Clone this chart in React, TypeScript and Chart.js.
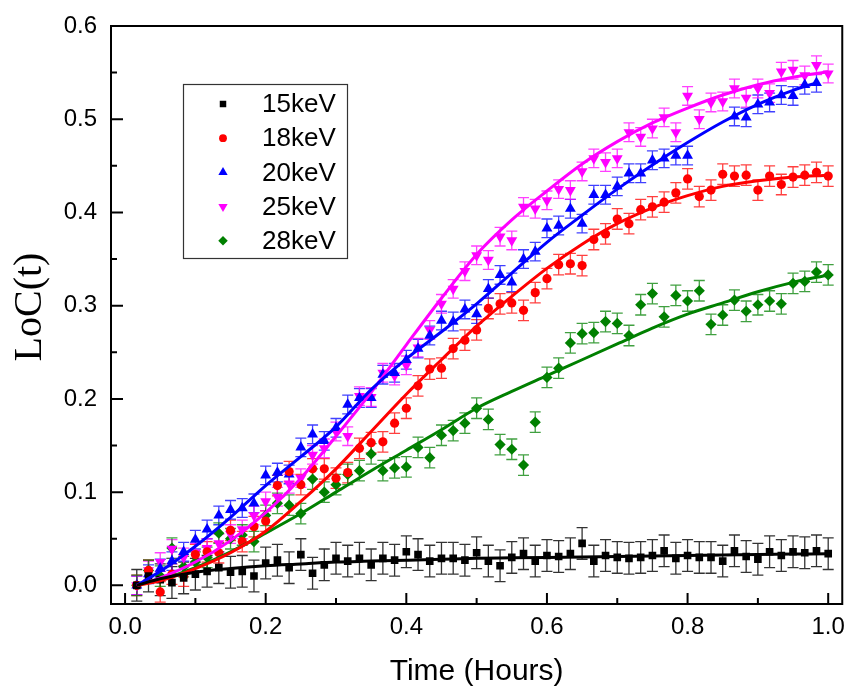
import React, { useEffect, useRef } from 'react';
import { Chart, registerables } from 'chart.js';

Chart.register(...registerables);

// Time axis: one sample per minute, expressed in hours
const TIME_MIN = [
  1, 2, 3, 4, 5, 6, 7, 8, 9, 10, 11, 12, 13, 14, 15, 16, 17, 18, 19, 20,
  21, 22, 23, 24, 25, 26, 27, 28, 29, 30, 31, 32, 33, 34, 35, 36, 37, 38, 39, 40,
  41, 42, 43, 44, 45, 46, 47, 48, 49, 50, 51, 52, 53, 54, 55, 56, 57, 58, 59, 60,
];

const LOC_15KEV = [
  0.000, 0.010, 0.006, 0.003, 0.008, 0.012, 0.015, 0.019, 0.014, 0.015,
  0.010, 0.024, 0.027, 0.019, 0.033, 0.013, 0.022, 0.029, 0.026, 0.029,
  0.022, 0.029, 0.027, 0.036, 0.033, 0.026, 0.029, 0.029, 0.027, 0.035,
  0.026, 0.021, 0.030, 0.034, 0.026, 0.032, 0.031, 0.034, 0.045, 0.026,
  0.032, 0.030, 0.029, 0.030, 0.032, 0.037, 0.029, 0.032, 0.030, 0.030,
  0.026, 0.037, 0.031, 0.028, 0.036, 0.032, 0.036, 0.035, 0.037, 0.034,
];

const LOC_18KEV = [
  0.000, 0.016, -0.007, 0.012, 0.010, 0.033, 0.036, 0.035, 0.059, 0.047,
  0.063, 0.069, 0.107, 0.122, 0.108, 0.125, 0.125, 0.115, 0.121, 0.147,
  0.153, 0.154, 0.174, 0.190, 0.214, 0.232, 0.233, 0.254, 0.263, 0.274,
  0.297, 0.302, 0.303, 0.295, 0.314, 0.329, 0.344, 0.345, 0.343, 0.371,
  0.377, 0.393, 0.388, 0.403, 0.406, 0.411, 0.421, 0.436, 0.417, 0.424,
  0.441, 0.439, 0.440, 0.424, 0.439, 0.430, 0.438, 0.440, 0.443, 0.439,
];

const LOC_20KEV = [
  0.000, 0.012, 0.018, 0.026, 0.036, 0.049, 0.060, 0.075, 0.081, 0.083,
  0.088, 0.118, 0.121, 0.119, 0.148, 0.162, 0.155, 0.169, 0.194, 0.201,
  0.201, 0.226, 0.228, 0.242, 0.254, 0.268, 0.284, 0.283, 0.296, 0.291,
  0.318, 0.333, 0.325, 0.350, 0.358, 0.383, 0.386, 0.404, 0.388, 0.419,
  0.419, 0.428, 0.442, 0.442, 0.456, 0.458, 0.461, 0.461, null, null,
  null, 0.503, 0.502, 0.516, 0.518, 0.526, 0.525, 0.537, 0.539, null,
];

const LOC_25KEV = [
  0.000, 0.016, 0.025, 0.039, 0.030, 0.035, 0.040, 0.045, 0.055, 0.060,
  0.075, 0.090, 0.095, 0.109, 0.115, 0.140, 0.147, 0.165, 0.160, 0.203,
  0.202, 0.228, 0.225, 0.236, 0.255, 0.274, 0.302, 0.318, 0.337, 0.354,
  0.349, 0.374, 0.370, 0.406, 0.404, 0.413, 0.425, 0.424, 0.444, 0.458,
  0.454, 0.458, 0.486, 0.481, 0.490, 0.502, 0.486, 0.525, 0.500, 0.518,
  0.519, 0.533, 0.523, 0.533, 0.528, 0.551, 0.553, 0.547, 0.558, 0.549,
];

const LOC_28KEV = [
  0.000, 0.016, 0.010, 0.040, 0.020, 0.025, 0.030, 0.056, 0.050, 0.054,
  0.047, 0.075, 0.088, 0.086, 0.077, 0.114, 0.100, 0.108, 0.119, 0.123,
  0.141, 0.123, 0.126, 0.127, 0.148, 0.137, 0.161, 0.166, 0.174, 0.190,
  0.178, 0.151, 0.146, 0.129, 0.175, 0.223, 0.233, 0.260, 0.270, 0.271,
  0.283, 0.281, 0.268, 0.301, 0.313, 0.288, 0.311, 0.305, 0.316, 0.280,
  0.290, 0.306, 0.294, 0.301, 0.305, 0.302, 0.324, 0.326, 0.336, 0.333,
];

// Error bar half-heights
const ERR_15KEV = 0.017;
const ERR_18KEV = 0.011;
const ERR_20KEV = 0.010;
const ERR_25KEV = 0.010;
const ERR_28KEV = 0.011;

// Fitted curves
const FIT_TIME = [
  0.0167, 0.05, 0.1, 0.15, 0.2, 0.25, 0.3, 0.35, 0.4, 0.45, 0.5,
  0.55, 0.6, 0.65, 0.7, 0.75, 0.8, 0.85, 0.9, 0.95, 1.0,
];
const FIT_TIME_20KEV = [
  0.0167, 0.05, 0.1, 0.15, 0.2, 0.25, 0.3, 0.35, 0.4, 0.45, 0.5,
  0.55, 0.6, 0.65, 0.7, 0.75, 0.8, 0.85, 0.9, 0.95, 0.9833,
];
const FIT_15KEV = [
  0.0, 0.007, 0.014, 0.018, 0.021, 0.023, 0.025, 0.026, 0.027, 0.028, 0.029,
  0.0295, 0.030, 0.0305, 0.031, 0.0315, 0.032, 0.0325, 0.033, 0.0335, 0.034,
];
const FIT_18KEV = [
  0.0, 0.005, 0.018, 0.035, 0.058, 0.090, 0.125, 0.165, 0.205, 0.242, 0.278,
  0.310, 0.340, 0.366, 0.388, 0.405, 0.418, 0.428, 0.434, 0.438, 0.440,
];
const FIT_20KEV = [
  0.0, 0.015, 0.042, 0.073, 0.107, 0.138, 0.170, 0.210, 0.243, 0.272, 0.302,
  0.335, 0.368, 0.397, 0.425, 0.451, 0.475, 0.497, 0.516, 0.531, 0.539,
];
const FIT_25KEV = [
  0.0, 0.008, 0.025, 0.048, 0.078, 0.115, 0.160, 0.207, 0.258, 0.308, 0.355,
  0.392, 0.423, 0.452, 0.476, 0.496, 0.512, 0.526, 0.537, 0.545, 0.551,
];
const FIT_28KEV = [
  0.0, 0.006, 0.019, 0.036, 0.056, 0.077, 0.100, 0.123, 0.145, 0.167, 0.190,
  0.208, 0.225, 0.242, 0.259, 0.276, 0.291, 0.303, 0.315, 0.325, 0.333,
];

const LEGEND_LABELS = ['15keV', '18keV', '20keV', '25keV', '28keV'];
const X_MAJOR = [0, 0.2, 0.4, 0.6, 0.8, 1.0];
const X_MINOR = [0.1, 0.3, 0.5, 0.7, 0.9];
const Y_MAJOR = [0, 0.1, 0.2, 0.3, 0.4, 0.5, 0.6];
const Y_MINOR = [0.05, 0.15, 0.25, 0.35, 0.45, 0.55];
const X_TITLE = 'Time (Hours)';
const Y_TITLE = 'LoC(t)';

type Series = {
  label: string;
  values: (number | null)[];
  fitT: number[];
  fit: number[];
  err: number;
  color: string;
  errColor: string;
  shape: string;
  radius: number;
  rotation: number;
};

const SERIES: Series[] = [
  { label: LEGEND_LABELS[0], values: LOC_15KEV, fitT: FIT_TIME, fit: FIT_15KEV, err: ERR_15KEV, color: '#000000', errColor: 'rgba(0,0,0,0.8)', shape: 'rect', radius: 5.4, rotation: 0 },
  { label: LEGEND_LABELS[1], values: LOC_18KEV, fitT: FIT_TIME, fit: FIT_18KEV, err: ERR_18KEV, color: '#FF0000', errColor: 'rgba(255,0,0,0.75)', shape: 'circle', radius: 4.6, rotation: 0 },
  { label: LEGEND_LABELS[2], values: LOC_20KEV, fitT: FIT_TIME_20KEV, fit: FIT_20KEV, err: ERR_20KEV, color: '#0000FF', errColor: 'rgba(0,0,255,0.75)', shape: 'triangle', radius: 6.3, rotation: 0 },
  { label: LEGEND_LABELS[3], values: LOC_25KEV, fitT: FIT_TIME, fit: FIT_25KEV, err: ERR_25KEV, color: '#FF00FF', errColor: 'rgba(255,0,255,0.75)', shape: 'triangle', radius: 6.3, rotation: 180 },
  { label: LEGEND_LABELS[4], values: LOC_28KEV, fitT: FIT_TIME, fit: FIT_28KEV, err: ERR_28KEV, color: '#008000', errColor: 'rgba(0,128,0,0.75)', shape: 'rectRot', radius: 5.6, rotation: 0 },
];

function drawMarker(ctx: CanvasRenderingContext2D, shape: string, rotation: number, x: number, y: number, r: number) {
  ctx.beginPath();
  if (shape === 'circle') {
    ctx.arc(x, y, r, 0, Math.PI * 2);
  } else if (shape === 'rect') {
    const s = r * Math.SQRT1_2;
    ctx.rect(x - s, y - s, 2 * s, 2 * s);
  } else if (shape === 'rectRot') {
    ctx.moveTo(x - r, y);
    ctx.lineTo(x, y - r);
    ctx.lineTo(x + r, y);
    ctx.lineTo(x, y + r);
    ctx.closePath();
  } else if (shape === 'triangle') {
    let a = (rotation * Math.PI) / 180;
    for (let k = 0; k < 3; k++) {
      const px = x + Math.sin(a) * r;
      const py = y - Math.cos(a) * r;
      if (k === 0) ctx.moveTo(px, py);
      else ctx.lineTo(px, py);
      a += (2 * Math.PI) / 3;
    }
    ctx.closePath();
  }
  ctx.fill();
}

const decorPlugin = {
  id: 'decor',
  beforeDatasetsDraw(chart: any) {
    const ctx = chart.ctx as CanvasRenderingContext2D;
    const ys = chart.scales.y;
    chart.data.datasets.forEach((ds: any, di: number) => {
      if (!ds.errBar) return;
      const meta = chart.getDatasetMeta(di);
      ctx.save();
      ctx.strokeStyle = ds.errColor;
      ctx.lineWidth = 1.3;
      meta.data.forEach((el: any, i: number) => {
        const v = ds.data[i].y;
        const yt = ys.getPixelForValue(v + ds.errBar);
        const yb = ys.getPixelForValue(v - ds.errBar);
        const x = el.x;
        const cw = 5.5;
        ctx.beginPath();
        ctx.moveTo(x, yt);
        ctx.lineTo(x, yb);
        ctx.moveTo(x - cw, yt);
        ctx.lineTo(x + cw, yt);
        ctx.moveTo(x - cw, yb);
        ctx.lineTo(x + cw, yb);
        ctx.stroke();
      });
      ctx.restore();
    });
  },
  afterDraw(chart: any) {
    const ctx = chart.ctx as CanvasRenderingContext2D;
    const { left, right, top, bottom } = chart.chartArea;
    const xs = chart.scales.x;
    const ys = chart.scales.y;
    ctx.save();
    // frame
    ctx.strokeStyle = '#000';
    ctx.lineWidth = 2;
    ctx.strokeRect(left, top, right - left, bottom - top);
    // inward ticks
    ctx.lineWidth = 2;
    ctx.beginPath();
    X_MAJOR.forEach((v) => {
      const px = xs.getPixelForValue(v);
      ctx.moveTo(px, bottom);
      ctx.lineTo(px, bottom - 11);
    });
    X_MINOR.forEach((v) => {
      const px = xs.getPixelForValue(v);
      ctx.moveTo(px, bottom);
      ctx.lineTo(px, bottom - 6);
    });
    Y_MAJOR.forEach((v) => {
      const py = ys.getPixelForValue(v);
      ctx.moveTo(left, py);
      ctx.lineTo(left + 12, py);
    });
    Y_MINOR.forEach((v) => {
      const py = ys.getPixelForValue(v);
      ctx.moveTo(left, py);
      ctx.lineTo(left + 6, py);
    });
    ctx.stroke();

    // axis titles
    ctx.fillStyle = '#000';
    ctx.textAlign = 'center';
    ctx.textBaseline = 'middle';
    ctx.font = '30px "Liberation Sans", Arial, sans-serif';
    ctx.fillText(X_TITLE, (left + right) / 2, 672);
    ctx.save();
    ctx.translate(30, 307);
    ctx.rotate(-Math.PI / 2);
    ctx.font = '40px "Liberation Serif", "Times New Roman", serif';
    ctx.fillText(Y_TITLE, 0, 0);
    ctx.restore();

    // legend
    const bx = 183, by = 84, bw = 164, bh = 174;
    ctx.fillStyle = '#fff';
    ctx.fillRect(bx, by, bw, bh);
    ctx.strokeStyle = '#333';
    ctx.lineWidth = 1.2;
    ctx.strokeRect(bx + 0.5, by + 0.5, bw, bh);
    ctx.textAlign = 'left';
    ctx.textBaseline = 'middle';
    ctx.font = '26px "Liberation Sans", Arial, sans-serif';
    SERIES.forEach((s, k) => {
      const cy = 104 + k * 34.2;
      ctx.fillStyle = s.color;
      drawMarker(ctx, s.shape, s.rotation, 223, cy, s.radius * 0.85);
      ctx.fillStyle = '#000';
      ctx.fillText(s.label, 262, cy + 1);
    });
    ctx.restore();
  },
};

export default function App() {
  const canvasRef = useRef<HTMLCanvasElement | null>(null);

  useEffect(() => {
    if (!canvasRef.current) return;
    const datasets: any[] = [];
    // fitted lines (drawn on top)
    SERIES.forEach((s) => {
      datasets.push({
        label: s.label + ' fit',
        data: s.fitT.map((t, i) => ({ x: t, y: s.fit[i] })),
        showLine: true,
        borderColor: s.color,
        borderWidth: 3,
        pointRadius: 0,
        cubicInterpolationMode: 'monotone',
        fill: false,
      });
    });
    // measured points
    SERIES.forEach((s) => {
      const pts: { x: number; y: number }[] = [];
      s.values.forEach((v, i) => {
        if (v !== null) pts.push({ x: TIME_MIN[i] / 60, y: v });
      });
      datasets.push({
        label: s.label,
        data: pts,
        showLine: false,
        pointStyle: s.shape,
        rotation: s.rotation,
        pointRadius: s.radius,
        pointBackgroundColor: s.color,
        pointBorderColor: s.color,
        pointBorderWidth: 0,
        errBar: s.err,
        errColor: s.errColor,
      });
    });

    const tickFont = { family: '"Liberation Sans", Arial, sans-serif', size: 24 };

    const chart = new Chart(canvasRef.current, {
      type: 'scatter',
      data: { datasets },
      options: {
        animation: false,
        responsive: false,
        devicePixelRatio: 1,
        events: [],
        layout: { padding: { left: 0, top: 14, right: 5, bottom: 0 } },
        plugins: {
          legend: { display: false },
          tooltip: { enabled: false },
        },
        scales: {
          x: {
            type: 'linear',
            min: -0.02,
            max: 1.02,
            grid: { display: false, drawTicks: false },
            border: { display: false },
            ticks: {
              font: tickFont,
              color: '#000',
              padding: 9,
              maxRotation: 0,
              autoSkip: false,
              callback: (v: any) => Number(v).toFixed(1),
            },
            afterBuildTicks: (s: any) => {
              s.ticks = X_MAJOR.map((v) => ({ value: v }));
            },
            afterFit: (s: any) => {
              s.height = 92;
            },
          },
          y: {
            type: 'linear',
            min: -0.02,
            max: 0.6,
            grid: { display: false, drawTicks: false },
            border: { display: false },
            ticks: {
              font: { ...tickFont, lineHeight: 1 },
              color: '#000',
              padding: 14,
              autoSkip: false,
              callback: (v: any) => Number(v).toFixed(1),
            },
            afterBuildTicks: (s: any) => {
              s.ticks = Y_MAJOR.map((v) => ({ value: v }));
            },
            afterFit: (s: any) => {
              s.width = 111;
            },
          },
        },
      } as any,
      plugins: [decorPlugin],
    });
    return () => chart.destroy();
  }, []);

  return (
    <div style={{ position: 'absolute', left: 0, top: 0, width: 854, height: 696, background: '#fff' }}>
      <canvas ref={canvasRef} width={854} height={696} style={{ width: 854, height: 696, display: 'block' }} />
    </div>
  );
}
